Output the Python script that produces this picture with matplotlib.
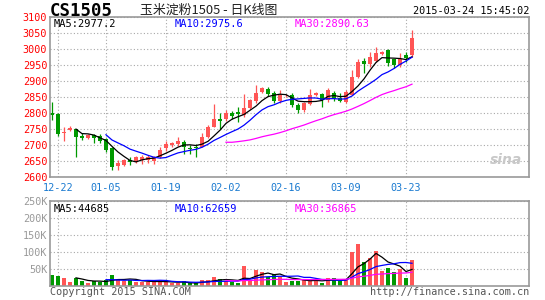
import numpy as np
import pandas as pd
import matplotlib
matplotlib.use("Agg")
import matplotlib.pyplot as plt

# daily candles, 2014-12-19 .. 2015-03-24
opens = [2799, 2797, 2736, 2747, 2750, 2729, 2721, 2730, 2727, 2719,
         2692, 2635, 2638, 2652, 2648, 2653, 2653, 2650, 2662, 2690,
         2699, 2703, 2710, 2691, 2695, 2695, 2724, 2757, 2780, 2781,
         2799, 2802, 2794, 2815, 2839, 2867, 2875, 2864, 2838, 2855,
         2855, 2825, 2808, 2828, 2855, 2859, 2841, 2862, 2846, 2835,
         2857, 2913, 2963, 2953, 2964, 2985, 2998, 2968, 2951, 2980, 2980]
highs = [2835, 2800, 2757, 2760, 2751, 2736, 2735, 2735, 2734, 2723,
         2694, 2652, 2657, 2663, 2665, 2668, 2668, 2666, 2695, 2713,
         2710, 2724, 2716, 2700, 2703, 2736, 2762, 2828, 2799, 2809,
         2807, 2818, 2859, 2843, 2887, 2882, 2880, 2870, 2872, 2860,
         2861, 2830, 2835, 2874, 2866, 2864, 2878, 2868, 2864, 2872,
         2934, 2968, 2972, 2990, 3005, 2995, 3000, 2970, 2988, 2990, 3060]
lows = [2778, 2727, 2714, 2743, 2663, 2716, 2720, 2707, 2707, 2677,
        2622, 2622, 2635, 2637, 2645, 2641, 2643, 2641, 2660, 2680,
        2693, 2697, 2672, 2672, 2662, 2693, 2721, 2755, 2749, 2776,
        2780, 2773, 2788, 2812, 2832, 2861, 2853, 2830, 2832, 2850,
        2820, 2801, 2803, 2825, 2853, 2818, 2834, 2838, 2835, 2830,
        2855, 2908, 2925, 2945, 2958, 2980, 2948, 2940, 2945, 2958, 2975]
closes = [2793, 2735, 2741, 2754, 2726, 2722, 2731, 2722, 2711, 2685,
          2630, 2643, 2653, 2648, 2662, 2661, 2663, 2661, 2684, 2703,
          2705, 2713, 2695, 2687, 2692, 2726, 2757, 2780, 2776, 2799,
          2791, 2796, 2815, 2841, 2864, 2877, 2859, 2838, 2856, 2857,
          2826, 2808, 2830, 2856, 2861, 2841, 2872, 2843, 2839, 2867,
          2914, 2960, 2953, 2974, 2988, 2990, 2955, 2950, 2968, 2972, 3033]
# volume in thousands
volumes_k = [31, 28, 22, 10, 22, 14, 7, 13, 9, 16,
             31, 19, 14, 16, 11, 11, 11, 10, 16, 10,
             6, 7, 12, 6, 6, 16, 16, 25, 19, 12,
             11, 8, 58, 14, 46, 40, 26, 34, 24, 11,
             14, 14, 18, 14, 15, 8, 22, 22, 14, 18,
             99, 123, 70, 81, 102, 43, 52, 40, 49, 22, 75]

tick_pos = [1, 9, 19, 29, 39, 49, 59]
tick_labels = ["12-22", "01-05", "01-19", "02-02", "02-16", "03-09", "03-23"]
price_ticks = [2600, 2650, 2700, 2750, 2800, 2850, 2900, 2950, 3000, 3050, 3100]
vol_ticks = [50000, 100000, 150000, 200000, 250000]
vol_tick_labels = ["50K", "100K", "150K", "200K", "250K"]

UP = "#ff5555"
DOWN = "#009900"
GRID = "#a8a8a8"
EDGE = "#999999"
MONO = "DejaVu Sans Mono"

df = pd.DataFrame({"o": opens, "h": highs, "l": lows, "c": closes,
                   "v": np.array(volumes_k) * 1000})
x = np.arange(len(df))
up = df["c"] >= df["o"]
cols = np.where(up, UP, DOWN)

W, H = 545, 300
fig = plt.figure(figsize=(W / 100, H / 100), dpi=100)
fig.patch.set_facecolor("white")


def px_axes(left, top, right, bottom):
    return fig.add_axes([left / W, 1 - bottom / H, (right - left) / W, (bottom - top) / H])


ax = px_axes(50, 17, 529, 177)
axv = px_axes(50, 201, 529, 285.5)

for a in (ax, axv):
    a.set_xlim(-0.33, 79.5)
    for s in a.spines.values():
        s.set_color(EDGE)
        s.set_linewidth(1.2)
    a.tick_params(length=0, pad=2)
    a.set_xticks(tick_pos)
    a.grid(True, color=GRID, linestyle=(0, (1, 2)), linewidth=0.8)
    a.set_axisbelow(True)

# price panel
ax.set_ylim(2600, 3100)
ax.set_yticks(price_ticks)
ax.set_yticklabels([str(t) for t in price_ticks], color="red", fontsize=7.3, family=MONO)
ax.set_xticklabels(tick_labels, color="#1a7ad0", fontsize=7.3, family=MONO)
ax.tick_params(axis="x", pad=4)

ax.vlines(x, df["l"], df["h"], colors=cols, linewidth=0.9)
body = np.maximum((df["c"] - df["o"]).abs(), 2)
ax.bar(x, body, bottom=np.minimum(df["o"], df["c"]), width=0.82, color=cols, linewidth=0)

for n, col in ((5, "black"), (10, "blue"), (30, "magenta")):
    ax.plot(x, df["c"].rolling(n).mean(), color=col, linewidth=0.9)
    axv.plot(x, df["v"].rolling(n).mean(), color=col, linewidth=0.9)

ax.text(4 / 479, 0.985, "MA5:2977.2", transform=ax.transAxes, va="top",
        fontsize=7.5, family=MONO, color="black")
ax.text(125 / 479, 0.985, "MA10:2975.6", transform=ax.transAxes, va="top",
        fontsize=7.5, family=MONO, color="blue")
ax.text(245 / 479, 0.985, "MA30:2890.63", transform=ax.transAxes, va="top",
        fontsize=7.5, family=MONO, color="magenta")
ax.text(0.985, 0.06, "sina", transform=ax.transAxes, ha="right", va="bottom",
        fontsize=10, style="italic", weight="bold", color="#c8c8c8")

# volume panel
axv.set_ylim(0, 250000)
axv.set_yticks(vol_ticks)
axv.set_yticklabels(vol_tick_labels, color="#999999", fontsize=7.3, family=MONO)
axv.set_xticklabels([])
axv.bar(x, df["v"], width=0.82, color=cols, linewidth=0)
axv.text(4 / 479, 0.97, "MA5:44685", transform=axv.transAxes, va="top",
         fontsize=7.5, family=MONO, color="black")
axv.text(125 / 479, 0.97, "MA10:62659", transform=axv.transAxes, va="top",
         fontsize=7.5, family=MONO, color="blue")
axv.text(245 / 479, 0.97, "MA30:36865", transform=axv.transAxes, va="top",
         fontsize=7.5, family=MONO, color="magenta")

# header and footer
fig.text(50 / W, 1 - 11 / H, "CS1505", fontsize=12.5, weight="bold", family=MONO,
         va="center", ha="left")
fig.text(140 / W, 1 - 10 / H, "玉米淀粉1505 - 日K线图", fontsize=9.3,
         family=["Noto Sans CJK SC", "DejaVu Sans"], va="center", ha="left", color="#222222")
fig.text(529 / W, 1 - 11 / H, "2015-03-24 15:45:02", fontsize=7.3, family=MONO,
         va="center", ha="right")
fig.text(50 / W, 1 - 292 / H, "Copyright 2015 SINA.COM", fontsize=7.3, family=MONO,
         va="center", ha="left", color="#555555")
fig.text(529 / W, 1 - 292 / H, "http://finance.sina.com.cn", fontsize=7.3, family=MONO,
         va="center", ha="right", color="#555555")

fig.savefig("out.png", dpi=100)
